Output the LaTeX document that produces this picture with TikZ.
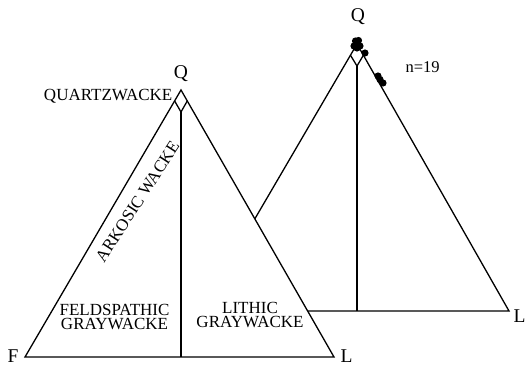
\documentclass[tikz,border=0pt]{standalone}
\usepackage{fontspec}
\setmainfont{Liberation Serif}
\usetikzlibrary{calc}
\begin{document}
\begin{tikzpicture}[x=1pt,y=-1pt, line width=1.3pt, line join=miter,
  lbl/.style={font=\fontsize{17}{14}\selectfont, inner sep=0pt, align=center},
  corner/.style={font=\fontsize{19.5}{19.5}\selectfont, inner sep=0pt},
  dot/.style={fill=black, draw=none}]
\useasboundingbox (0,0) rectangle (528,369);
% ---- back triangle ----
\coordinate (bQ) at (357,44);
\coordinate (bF) at (201,311);
\coordinate (bL) at (509,311);
\draw (bQ) -- (bF) -- (bL) -- cycle;
\coordinate (bDl) at ($(bQ)!0.042!(bF)$);
\coordinate (bDr) at ($(bQ)!0.042!(bL)$);
\coordinate (bDb) at ($(bQ)+(0,22)$);
\draw (bDl) -- (bDb) -- (bDr);
\draw (bDb) -- (bQ |- bF);
% data points
\foreach \p in {(355.5,41),(358.5,40.5),(357,44),(354,46),(360,46),(357,48),(365,53),(378,76),(380,79.5),(383,83)}
  \fill[dot] \p circle (3.6);
% ---- front triangle ----
\coordinate (fQ) at (181,90);
\coordinate (fF) at (25,357);
\coordinate (fL) at (334,357);
\filldraw[fill=white] (fQ) -- (fF) -- (fL) -- cycle;
\coordinate (fDl) at ($(fQ)!0.041!(fF)$);
\coordinate (fDr) at ($(fQ)!0.041!(fL)$);
\coordinate (fDb) at ($(fQ)+(0,22)$);
\draw (fDl) -- (fDb) -- (fDr);
\draw (fDb) -- (fQ |- fF);
% ---- labels ----
\node[corner, anchor=base] (qf) at (181,79) {Q};
\node[corner, anchor=base] (qb) at (358,21.5) {Q};
\node[corner, anchor=base west] (lf) at (7,362) {F};
\node[corner, anchor=base west] (ll) at (340,362) {L};
\node[corner, anchor=base west] (lb) at (513,322) {L};
\node[lbl, anchor=base east] (qw) at (173,101) {QUARTZWACKE};
\node[lbl, rotate=57] (aw) at (137.5,201.7) {ARKOSIC WACKE};
\node[lbl, anchor=base] (fg) at (114.5,329) {FELDSPATHIC\\GRAYWACKE};
\node[lbl, anchor=base] (lg) at (250,327.5) {LITHIC\\GRAYWACKE};
\node[font=\fontsize{16.5}{16.5}\selectfont, inner sep=0pt, anchor=base west] (n) at (405,73) {n=19};
\end{tikzpicture}
\end{document}
